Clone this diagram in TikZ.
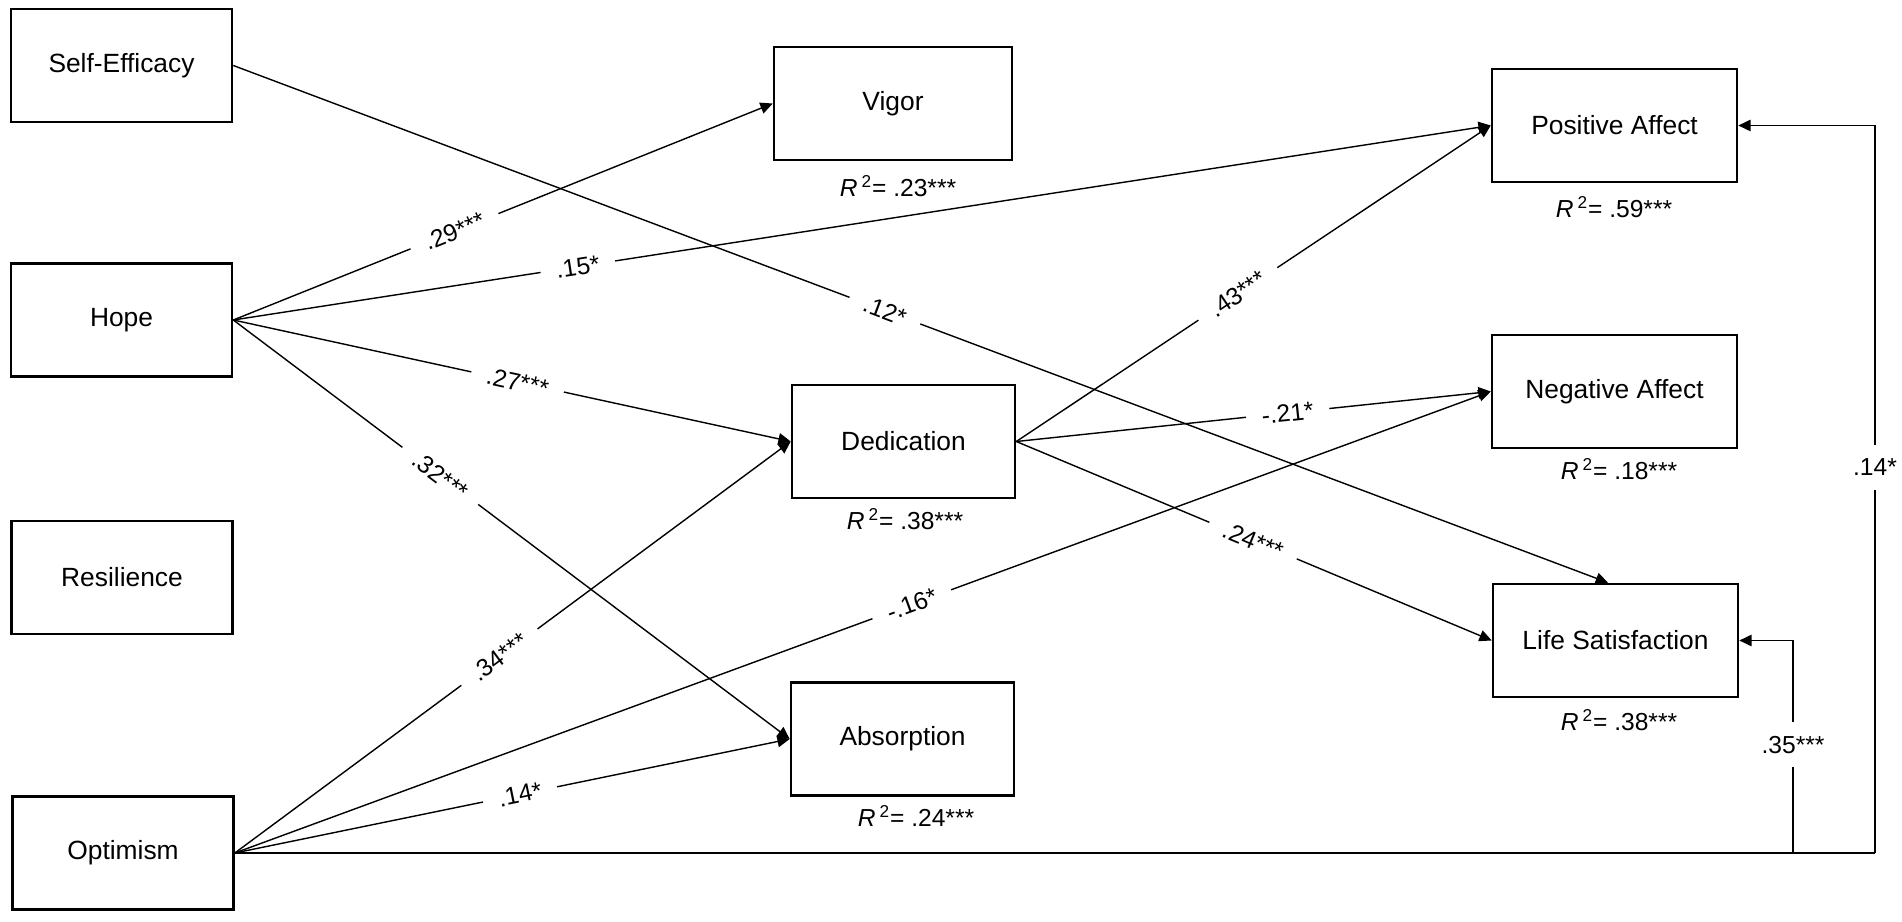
\documentclass[tikz,border=0pt]{standalone}
\usepackage{fontspec}
\setmainfont{Liberation Sans}
\usetikzlibrary{arrows.meta}
\begin{document}
\begin{tikzpicture}[x=0.02cm,y=-0.02cm,
  box/.style={draw, line width=1.5pt, minimum height=2.26cm, font=\fontsize{15}{18}\selectfont, inner sep=0pt},
  arr/.style={line width=0.8pt, -{Triangle[length=7pt,width=6.5pt]}},
  ln/.style={line width=0.8pt},
  lab/.style={fill=white, inner xsep=9pt, inner ysep=1pt, font=\fontsize{14}{16}\selectfont},
  rsq/.style={font=\fontsize{14}{16}\selectfont, inner sep=0pt}]
\useasboundingbox (0,0) rectangle (1902,922);
% left column
\node[box, minimum width=4.42cm] (se)  at (121.5,65.5) {Self-Efficacy};
\node[box, minimum width=4.42cm] (hope) at (121.5,320) {Hope};
\node[box, minimum width=4.42cm] (res) at (122,577.5) {Resilience};
\node[box, minimum width=4.42cm] (opt) at (123,853) {Optimism};
% middle column
\node[box, minimum width=4.76cm] (vig) at (893,103.5) {Vigor};
\node[box, minimum width=4.46cm] (ded) at (903.5,441.5) {Dedication};
\node[box, minimum width=4.46cm] (abs) at (902.5,739) {Absorption};
% right column
\node[box, minimum width=4.9cm] (pa) at (1614.5,125.5) {Positive Affect};
\node[box, minimum width=4.9cm] (na) at (1614.5,391.5) {Negative Affect};
\node[box, minimum width=4.9cm] (ls) at (1615.5,640.5) {Life Satisfaction};
% R squared
\node[rsq] (r1) at (898,186) {\textit{R}\,\textsuperscript{2}= .23***};
\node[rsq] (r2) at (905,519) {\textit{R}\,\textsuperscript{2}= .38***};
\node[rsq] (r3) at (916,816) {\textit{R}\,\textsuperscript{2}= .24***};
\node[rsq] (r4) at (1614,207) {\textit{R}\,\textsuperscript{2}= .59***};
\node[rsq] (r5) at (1619,469) {\textit{R}\,\textsuperscript{2}= .18***};
\node[rsq] (r6) at (1619,720) {\textit{R}\,\textsuperscript{2}= .38***};
% paths
\draw[arr] (se.east) -- node[lab, sloped, pos=0.474] {.12*} ([xshift=-0.15cm]ls.north);
\draw[arr] (hope.east) -- node[lab, sloped, pos=0.41] {.29***} (vig.west);
\draw[arr] (hope.east) -- node[lab, sloped, pos=0.274] {.15*} (pa.west);
\draw[arr] (hope.east) -- node[lab, sloped, pos=0.51] {.27***} (ded.west);
\draw[arr] (hope.east) -- node[lab, sloped, pos=0.372] {.32***} (abs.west);
\draw[arr] (opt.east) -- node[lab, sloped, pos=0.476] {.34***} (ded.west);
\draw[arr] (opt.east) -- node[lab, sloped, pos=0.539] {-.16*} (na.west);
\draw[arr] (opt.east) -- node[lab, sloped, pos=0.514] {.14*} (abs.west);
\draw[arr] (ded.east) -- node[lab, sloped, pos=0.467] {.43***} (pa.west);
\draw[arr] (ded.east) -- node[lab, sloped, pos=0.572] {-.21*} (na.west);
\draw[arr] (ded.east) -- node[lab, sloped, pos=0.498] {.24***} (ls.west);
% bottom return paths
\coordinate (rc) at (1875,853);
\coordinate (br) at (1793,853);
\draw[ln] (opt.east) -- (rc);
\draw[arr] (rc) -- node[lab, pos=0.53, inner xsep=2pt, inner ysep=8pt] {.14*} (rc |- pa.east) -- (pa.east);
\draw[arr] (br) -- node[lab, pos=0.51, inner xsep=2pt, inner ysep=8pt] {.35***} (br |- ls.east) -- (ls.east);
\end{tikzpicture}
\end{document}
